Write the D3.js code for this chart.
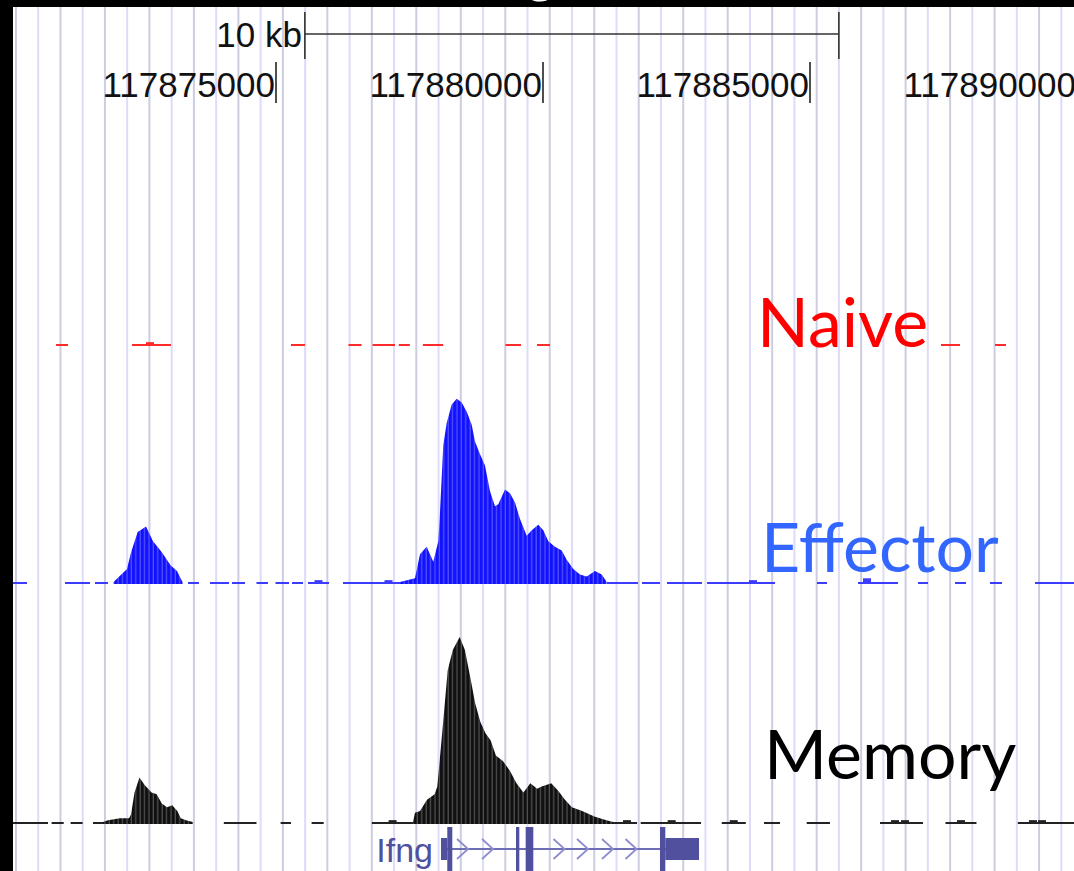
<!DOCTYPE html>
<html>
<head>
<meta charset="utf-8">
<script src="https://cdn.jsdelivr.net/npm/d3@7"></script>
<style>
  html, body { margin: 0; padding: 0; background: #fff; }
  svg { display: block; }
</style>
</head>
<body>
<svg id="browser"></svg>
<script>
// Canvas size
const W = 1074, H = 871;

// Genomic axis
const tickValues = [117875000, 117880000, 117885000, 117890000];
const scaleBarStart = 117875550;
const scaleBarLength = 10000;   // "10 kb"
const gridStart = 117870140;
const gridStep = 416.5;
const gridCount = 48;

// Track names
const trackNames = ["Naive", "Effector", "Memory"];

// Naive: only low coverage pieces
const naiveCoverage = [
  [117870890, 117871114], [117872313, 117873043], [117875290, 117875552],
  [117876367, 117876612], [117876818, 117877238], [117877309, 117877515],
  [117877760, 117878140], [117879307, 117879597], [117879897, 117880140],
  [117887463, 117887818], [117888474, 117888680]
];
const naiveBlips = [[117872650, 1]];

// Effector
const effectorCoverage = [
  [117870084, 117870346], [117871058, 117871526], [117871620, 117871863],
  [117873361, 117873567], [117873773, 117874129], [117874185, 117874429],
  [117874644, 117874860], [117875000, 117875253], [117875309, 117875515],
  [117875609, 117876002], [117876264, 117877388], [117881208, 117881788],
  [117881863, 117882200], [117882331, 117882987], [117883081, 117884354],
  [117885140, 117885328], [117885908, 117886657], [117887032, 117887219],
  [117887725, 117887931], [117888380, 117888605], [117889223, 117889953]
];
const effectorPeak1 = [
  [117871968, 0], [117872219, 7], [117872294, 16], [117872419, 27], [117872575, 30],
  [117872706, 22], [117872875, 16], [117873034, 9], [117873155, 6], [117873258, 0]
];
const effectorPeak2 = [
  [117877331, 0], [117877612, 2], [117877706, 15], [117877831, 19], [117877955, 11],
  [117878049, 22], [117878081, 38], [117878142, 74], [117878206, 86], [117878300, 96],
  [117878393, 99], [117878487, 97], [117878581, 92], [117878674, 85], [117878736, 76],
  [117878830, 69], [117878923, 63], [117879017, 49], [117879111, 41], [117879172, 42],
  [117879298, 50], [117879391, 48], [117879485, 43], [117879579, 34], [117879704, 25],
  [117879798, 28], [117879921, 31], [117880015, 28], [117880109, 22], [117880234, 19],
  [117880360, 17], [117880453, 12], [117880577, 7], [117880702, 4], [117880828, 3],
  [117880983, 6], [117881109, 4], [117881202, 0]
];
const effectorBlips = [[117875805, 1], [117877116, 1], [117883942, 1], [117886077, 2]];

// Memory
const memoryCoverage = [
  [117870084, 117870740], [117870807, 117871034], [117871163, 117871388],
  [117871582, 117871770], [117874032, 117874644], [117875096, 117875290],
  [117875676, 117875903], [117876805, 117877575], [117881320, 117881770],
  [117881839, 117882968], [117883356, 117883807], [117884148, 117884448],
  [117884948, 117885384], [117886320, 117887125], [117887547, 117888127],
  [117888901, 117889953]
];
const memoryPeak1 = [
  [117871770, 0], [117871863, 1], [117872088, 2], [117872257, 2], [117872294, 4],
  [117872360, 16], [117872453, 24], [117872549, 20], [117872678, 16], [117872775, 15],
  [117872871, 10], [117872968, 8], [117873066, 9], [117873161, 6], [117873227, 2],
  [117873324, 1], [117873451, 0]
];
const memoryPeak2 = [
  [117877575, 0], [117877612, 5], [117877706, 6], [117877837, 12], [117877979, 15],
  [117878030, 19], [117878127, 50], [117878225, 82], [117878320, 93], [117878449, 100],
  [117878547, 93], [117878642, 79], [117878740, 64], [117878837, 54], [117878933, 48],
  [117879030, 44], [117879127, 36], [117879257, 33], [117879384, 28], [117879513, 21],
  [117879642, 16], [117879772, 21], [117879901, 18], [117879972, 19], [117880163, 21],
  [117880290, 17], [117880421, 12], [117880551, 8], [117880743, 6], [117880970, 3],
  [117881195, 1], [117881324, 0]
];
const memoryBlips = [
  [117877193, 1], [117881582, 1], [117882419, 1], [117883581, 1], [117886601, 1],
  [117886788, 1], [117887837, 1], [117889185, 1], [117889354, 1]
];

// Ifng gene model
const geneName = "Ifng";
const ifngUtr = [[117878099, 117878217], [117882300, 117882931]];
const ifngCds = [[117878217, 117878311], [117879504, 117879566], [117879685, 117879828], [117882200, 117882300]];
const ifngSpan = [117878099, 117882931];
const ifngArrows = [117878502, 117878970, 117880309, 117880749, 117881217, 117881657];

const svg = d3.select("#browser").attr("width", W).attr("height", H);

const x = d3.scaleLinear()
    .domain([117875000, 117885000])
    .range([275.5, 809.5]);

// stripe patterns to mimic the per-pixel bars
const defs = svg.append("defs");
function stripes(id, base, line) {
  const p = defs.append("pattern")
      .attr("id", id)
      .attr("patternUnits", "userSpaceOnUse")
      .attr("width", 4.4).attr("height", 10);
  p.append("rect").attr("width", 4.4).attr("height", 10).attr("fill", base);
  p.append("rect").attr("x", 3.2).attr("width", 1.1).attr("height", 10).attr("fill", line);
}
stripes("effStripe", "#1212ff", "#5a5aff");
stripes("memStripe", "#101010", "#5a5a5a");

// background grid
svg.append("g")
  .selectAll("line")
  .data(d3.range(gridCount))
  .join("line")
    .attr("x1", i => x(gridStart + i * gridStep))
    .attr("x2", i => x(gridStart + i * gridStep))
    .attr("y1", 0).attr("y2", H)
    .attr("stroke", (i) => i % 2 ? "#dcdcfa" : "#cdcde2")
    .attr("stroke-width", 2);

// scale bar
const sb = svg.append("g").attr("stroke", "#333").attr("stroke-width", 1.6);
const sb0 = x(scaleBarStart), sb1 = x(scaleBarStart + scaleBarLength);
sb.append("line").attr("x1", sb0).attr("x2", sb1).attr("y1", 34).attr("y2", 34);
sb.append("line").attr("x1", sb0).attr("x2", sb0).attr("y1", 12).attr("y2", 59);
sb.append("line").attr("x1", sb1).attr("x2", sb1).attr("y1", 12).attr("y2", 59);
svg.append("text")
    .attr("x", sb0 - 3).attr("y", 47)
    .attr("text-anchor", "end")
    .attr("font-family", "'Liberation Sans', Arial, sans-serif")
    .attr("font-size", 35)
    .attr("fill", "#111")
    .text("10 kb");

// position axis
const axis = d3.axisBottom(x).tickValues(tickValues).tickSize(41).tickSizeOuter(0).tickFormat(d3.format("d"));
const ax = svg.append("g").attr("transform", "translate(0,62)").call(axis);
ax.select(".domain").remove();
ax.selectAll(".tick line").attr("stroke", "#222").attr("stroke-width", 1.6);
ax.selectAll(".tick text")
    .attr("text-anchor", "end")
    .attr("x", -1)
    .attr("y", 35)
    .attr("dy", null)
    .attr("font-family", "'Liberation Sans', Arial, sans-serif")
    .attr("font-size", 35)
    .attr("fill", "#111");

// tracks
function drawTrack(base, coverage, peaks, blips, lineColor, fill) {
  const y = d3.scaleLinear().domain([0, 100]).range([base, base - 185]);
  const g = svg.append("g");
  g.selectAll("rect.cov")
    .data(coverage)
    .join("rect")
      .attr("class", "cov")
      .attr("x", d => x(d[0]))
      .attr("width", d => x(d[1]) - x(d[0]))
      .attr("y", y(0) - 1)
      .attr("height", 2)
      .attr("fill", lineColor);
  const area = d3.area()
      .x(d => x(d[0]))
      .y0(y(0) + 1)
      .y1(d => y(d[1]) - 1);
  g.selectAll("path.peak")
    .data(peaks)
    .join("path")
      .attr("class", "peak")
      .attr("d", area)
      .attr("fill", fill);
  g.selectAll("rect.blip")
    .data(blips)
    .join("rect")
      .attr("class", "blip")
      .attr("x", d => x(d[0]) - 4)
      .attr("width", 8)
      .attr("y", d => y(d[1]) - 1)
      .attr("height", d => y(0) - y(d[1]) + 1)
      .attr("fill", lineColor);
}
drawTrack(345, naiveCoverage, [], naiveBlips, "#ff2a2a", "#ff2a2a");
drawTrack(583, effectorCoverage, [effectorPeak1, effectorPeak2], effectorBlips, "#3c3cff", "url(#effStripe)");
drawTrack(823, memoryCoverage, [memoryPeak1, memoryPeak2], memoryBlips, "#222", "url(#memStripe)");

// track labels
const labelFont = "Lato, 'Open Sans', sans-serif";
const labels = [
  { x: 757, y: 347, color: "#ff0000" },
  { x: 761, y: 572, color: "#3366ff" },
  { x: 764, y: 779, color: "#000000" }
];
svg.append("g")
  .selectAll("text")
  .data(trackNames)
  .join("text")
    .attr("x", (d, i) => labels[i].x)
    .attr("y", (d, i) => labels[i].y)
    .attr("fill", (d, i) => labels[i].color)
    .attr("font-family", labelFont)
    .attr("font-size", 68)
    .text(d => d);

// gene model
const gc = 849;
const gene = svg.append("g");
const gColor = "#50509e";
gene.append("line")
    .attr("x1", x(ifngSpan[0])).attr("x2", x(ifngSpan[1]))
    .attr("y1", gc).attr("y2", gc)
    .attr("stroke", "#6e6eb6").attr("stroke-width", 2);
gene.selectAll("path.chev")
  .data(ifngArrows)
  .join("path")
    .attr("class", "chev")
    .attr("d", d => `M${x(d) - 5.5},${gc - 10} L${x(d) + 5.5},${gc} L${x(d) - 5.5},${gc + 10}`)
    .attr("fill", "none")
    .attr("stroke", "#8c8cd0")
    .attr("stroke-width", 1.8);
gene.selectAll("rect.utr")
  .data(ifngUtr)
  .join("rect")
    .attr("class", "utr")
    .attr("x", d => x(d[0])).attr("width", d => x(d[1]) - x(d[0]))
    .attr("y", gc - 11).attr("height", 22)
    .attr("fill", gColor);
gene.selectAll("rect.cds")
  .data(ifngCds)
  .join("rect")
    .attr("class", "cds")
    .attr("x", d => x(d[0])).attr("width", d => x(d[1]) - x(d[0]))
    .attr("y", gc - 22).attr("height", 46)
    .attr("fill", gColor);
gene.append("text")
    .attr("x", x(ifngSpan[0]) - 8).attr("y", 862)
    .attr("text-anchor", "end")
    .attr("font-family", "'Liberation Sans', Arial, sans-serif")
    .attr("font-size", 34)
    .attr("fill", gColor)
    .text(geneName);

// frame: black strips at top and left
svg.append("rect").attr("x", 0).attr("y", 0).attr("width", W).attr("height", 7).attr("fill", "#000");
svg.append("rect").attr("x", 0).attr("y", 0).attr("width", 13).attr("height", H).attr("fill", "#000");
svg.append("text")
    .attr("x", 526).attr("y", -9)
    .attr("font-family", labelFont)
    .attr("font-size", 56)
    .attr("fill", "#fff")
    .text("g");
</script>
</body>
</html>
